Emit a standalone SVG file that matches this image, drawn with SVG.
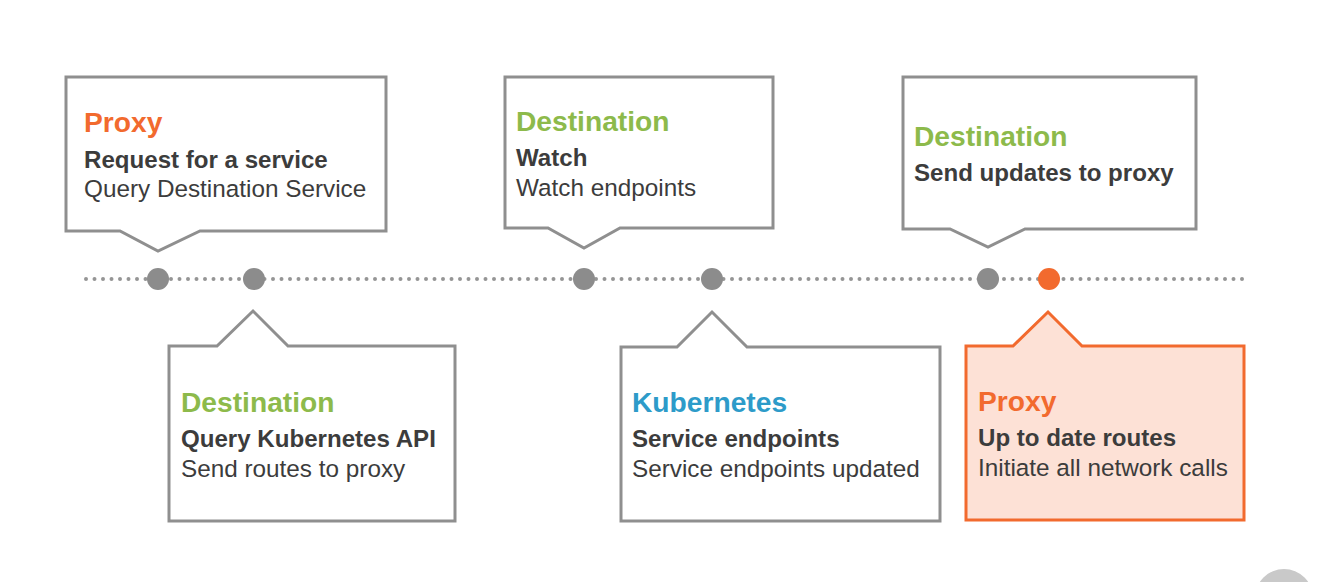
<svg xmlns="http://www.w3.org/2000/svg" width="1317" height="582" viewBox="0 0 1317 582">
<style>
.box{fill:#ffffff;stroke:#8f8f8f;stroke-width:3;stroke-linejoin:miter}
.hot{fill:#fde1d6;stroke:#f26a2e;stroke-width:3}
.t{font-family:"Liberation Sans",Arial,sans-serif;font-weight:bold;font-size:28.2px}
.b{font-family:"Liberation Sans",Arial,sans-serif;font-weight:bold;font-size:24.1px;fill:#3c3c3c}
.r{font-family:"Liberation Sans",Arial,sans-serif;font-size:24.3px;fill:#3c3c3c}
.or{fill:#f26a2e}.gr{fill:#8dba4b}.bl{fill:#2d9bc9}
.dot{fill:#8c8c8c}
</style>
<rect width="1317" height="582" fill="#ffffff"/>
<g id="connectors">
<line x1="86" y1="279" x2="1243" y2="279" stroke="#959595" stroke-width="4" stroke-linecap="round" stroke-dasharray="0 8.5"/>
<circle class="dot" cx="158" cy="279" r="11"/>
<circle class="dot" cx="254" cy="279" r="11"/>
<circle class="dot" cx="584" cy="279" r="11"/>
<circle class="dot" cx="712" cy="279" r="11"/>
<circle class="dot" cx="988" cy="279" r="11"/>
<circle cx="1049" cy="279" r="11" fill="#f26a2e"/>
</g>
<g id="node1">
<path class="box" d="M66,77 H386 V231 H200 L158,251 L120,231 H66 Z"/>
<text class="t or" x="84" y="132">Proxy</text>
<text class="b" x="84" y="168">Request for a service</text>
<text class="r" x="84" y="197">Query Destination Service</text>
</g>
<g id="node2">
<path class="box" d="M169,346 H217 L253,311 L288,346 H455 V521 H169 Z"/>
<text class="t gr" x="181" y="412">Destination</text>
<text class="b" x="181" y="447">Query Kubernetes API</text>
<text class="r" x="181" y="477">Send routes to proxy</text>
</g>
<g id="node3">
<path class="box" d="M505,77 H773 V228 H620 L584,248 L548,228 H505 Z"/>
<text class="t gr" x="516" y="131">Destination</text>
<text class="b" x="516" y="166">Watch</text>
<text class="r" x="516" y="196">Watch endpoints</text>
</g>
<g id="node4">
<path class="box" d="M621,347 H677 L712,312 L747,347 H940 V521 H621 Z"/>
<text class="t bl" x="632" y="412">Kubernetes</text>
<text class="b" x="632" y="447">Service endpoints</text>
<text class="r" x="632" y="477">Service endpoints updated</text>
</g>
<g id="node5">
<path class="box" d="M903,77 H1196 V229 H1025 L988,247 L950,229 H903 Z"/>
<text class="t gr" x="914" y="146">Destination</text>
<text class="b" x="914" y="181">Send updates to proxy</text>
</g>
<g id="node6">
<path class="hot" d="M966,346 H1013 L1048,312 L1082,346 H1244 V520 H966 Z"/>
<text class="t or" x="978" y="411">Proxy</text>
<text class="b" x="978" y="446">Up to date routes</text>
<text class="r" x="978" y="476">Initiate all network calls</text>
</g>
<circle cx="1284" cy="598" r="29" fill="#c9c9c9"/>
</svg>
